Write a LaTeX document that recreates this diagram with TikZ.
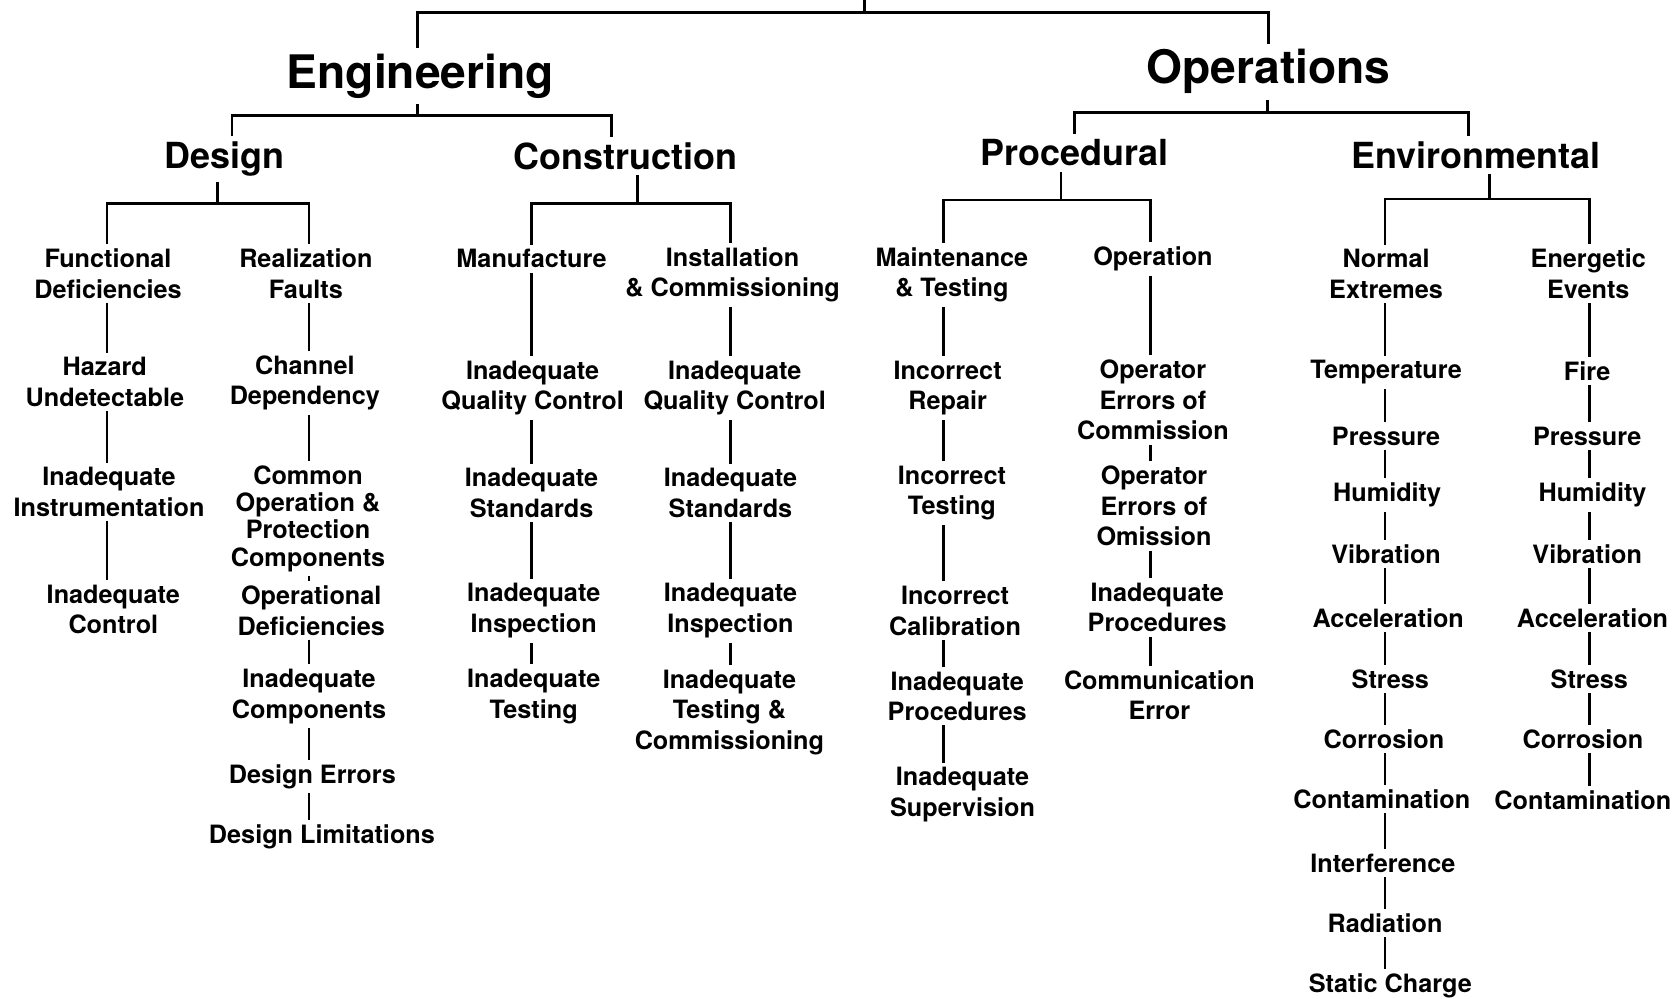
\documentclass[tikz,border=0pt]{standalone}
\usepackage{fontspec}
\setmainfont{TeX Gyre Heros}
\usetikzlibrary{positioning}

\begin{document}
\begin{tikzpicture}[x=0.5pt, y=-0.5pt, line width=1.3pt,
    rootbox/.style={font=\fontsize{21.6}{24}\selectfont\bfseries, inner sep=2pt},
    branchbox/.style={font=\fontsize{16.8}{20}\selectfont\bfseries, inner sep=2pt},
    leafbox/.style={font=\fontsize{11.8}{14.3}\selectfont\bfseries, align=center,
        inner xsep=1pt, inner ysep=1.5pt}]
    \useasboundingbox (0,0) rectangle (1568,934);

    % columns of the leaf chains
    \coordinate (c1) at (100,0);
    \coordinate (c2) at (289,0);
    \coordinate (c3) at (497,0);
    \coordinate (c4) at (683,0);
    \coordinate (c5) at (882,0);
    \coordinate (c6) at (1076,0);
    \coordinate (c7) at (1295,0);
    \coordinate (c8) at (1486,0);

    % bars
    \coordinate (top) at (808,0);
    \coordinate (bR) at (808,12);
    \coordinate (bE) at (390,108);
    \coordinate (bO) at (1185,105);
    \coordinate (bD) at (203,190);
    \coordinate (bC) at (596,190);
    \coordinate (bP) at (992,187);
    \coordinate (bV) at (1393,186);

    \node [rootbox] (Eng) at (393,71) {Engineering};
    \node [rootbox] (Ops) at (1186,67) {Operations};

    \node [branchbox] (Des) at (210,149) {Design};
    \node [branchbox] (Con) at (585,146) {Construction};
    \node [branchbox] (Pro) at (1005,143) {Procedural};
    \node [branchbox] (Env) at (1380,145) {Environmental};

    % Design
    \node [leafbox] (FD) at (101,256) {Functional\\Deficiencies};
    \node [leafbox] (HU) at (98,357) {Hazard\\Undetectable};
    \node [leafbox] (II) at (102,460) {Inadequate\\Instrumentation};
    \node [leafbox] (IC) at (106,570) {Inadequate\\Control};

    \node [leafbox] (RF) at (286,256) {Realization\\Faults};
    \node [leafbox] (CD) at (285,358) {Channel\\Dependency};
    \node [leafbox, font=\fontsize{11.8}{12.7}\selectfont\bfseries] (CO) at (288,485)
        {Common\\Operation \&\\Protection\\Components};
    \node [leafbox] (OD) at (291,571) {Operational\\Deficiencies};
    \node [leafbox] (IN) at (289,651) {Inadequate\\Components};
    \node [leafbox] (DE) at (292,726) {Design Errors};
    \node [leafbox] (DL) at (301,782) {Design Limitations};

    % Construction
    \node [leafbox] (MA) at (497,242) {Manufacture};
    \node [leafbox] (QC3) at (498,363) {Inadequate\\Quality Control};
    \node [leafbox] (ST3) at (497,461) {Inadequate\\Standards};
    \node [leafbox] (IS3) at (499,571) {Inadequate\\Inspection};
    \node [leafbox] (TE3) at (499,651) {Inadequate\\Testing};

    \node [leafbox] (IC4) at (685,257) {Installation\\\& Commissioning};
    \node [leafbox] (QC4) at (687,363) {Inadequate\\Quality Control};
    \node [leafbox] (ST4) at (683,461) {Inadequate\\Standards};
    \node [leafbox] (IS4) at (683,571) {Inadequate\\Inspection};
    \node [leafbox] (TC4) at (682,666) {Inadequate\\Testing \&\\Commissioning};

    % Procedural
    \node [leafbox] (MT) at (890,257) {Maintenance\\\& Testing};
    \node [leafbox] (IR) at (886,363) {Incorrect\\Repair};
    \node [leafbox] (IT) at (890,461) {Incorrect\\Testing};
    \node [leafbox] (ICa) at (893,571) {Incorrect\\Calibration};
    \node [leafbox] (IP5) at (895,651) {Inadequate\\Procedures};
    \node [leafbox] (IS5) at (900,743) {Inadequate\\Supervision};

    \node [leafbox] (OP) at (1078,242) {Operation};
    \node [leafbox] (OC) at (1078,374) {Operator\\Errors of\\Commission};
    \node [leafbox] (OO) at (1079,473) {Operator\\Errors of\\Omission};
    \node [leafbox] (IP6) at (1082,568) {Inadequate\\Procedures};
    \node [leafbox] (CE) at (1084,650) {Communication\\Error};

    % Environmental
    \node [leafbox] (NE) at (1296,256) {Normal\\Extremes};
    \node [leafbox] (Tm7) at (1296,348) {Temperature};
    \node [leafbox] (Pr7) at (1296,408) {Pressure};
    \node [leafbox] (Hu7) at (1297,463) {Humidity};
    \node [leafbox] (Vi7) at (1296,518) {Vibration};
    \node [leafbox] (Ac7) at (1298,578) {Acceleration};
    \node [leafbox] (St7) at (1300,635) {Stress};
    \node [leafbox] (Co7) at (1294,691) {Corrosion};
    \node [leafbox] (Ct7) at (1292,747) {Contamination};
    \node [leafbox] (If7) at (1293,807) {Interference};
    \node [leafbox] (Ra7) at (1295,863) {Radiation};
    \node [leafbox] (SC7) at (1300,922) {Static Charge};

    \node [leafbox] (EE) at (1485,256) {Energetic\\Events};
    \node [leafbox] (Fi8) at (1484,347) {Fire};
    \node [leafbox] (Pr8) at (1484,408) {Pressure};
    \node [leafbox] (Hu8) at (1489,463) {Humidity};
    \node [leafbox] (Vi8) at (1484,518) {Vibration};
    \node [leafbox] (Ac8) at (1489,578) {Acceleration};
    \node [leafbox] (St8) at (1486,635) {Stress};
    \node [leafbox] (Co8) at (1480,691) {Corrosion};
    \node [leafbox] (Ct8) at (1480,748) {Contamination};

    % tree
    \draw (top) -- (bR);
    \draw (Eng.north -| bE) |- (bR) -| (Ops.north);
    \draw (Eng.south -| bE) -- (bE);
    \draw ([xshift=3.5pt]Des.north) |- (bE) -| ([xshift=-6.5pt]Con.north);
    \draw (Ops.south -| bO) -- (bO);
    \draw (Pro.north) |- (bO) -| ([xshift=-3.5pt]Env.north);

    \draw (Des.south -| bD) -- (bD);
    \draw (FD.north -| c1) |- (bD) -| (RF.north -| c2);
    \draw (Con.south -| bC) -- (bC);
    \draw (MA.north -| c3) |- (bC) -| (IC4.north -| c4);
    \draw (Pro.south -| bP) -- (bP);
    \draw (MT.north -| c5) |- (bP) -| (OP.north -| c6);
    \draw (Env.south -| bV) -- (bV);
    \draw (NE.north -| c7) |- (bV) -| (EE.north -| c8);

    % chains
    \foreach \a/\b in {FD/HU, HU/II, II/IC}
        \draw (\a.south -| c1) -- (\b.north -| c1);
    \foreach \a/\b in {RF/CD, CD/CO, CO/OD, OD/IN, IN/DE, DE/DL}
        \draw (\a.south -| c2) -- (\b.north -| c2);
    \foreach \a/\b in {MA/QC3, QC3/ST3, ST3/IS3, IS3/TE3}
        \draw (\a.south -| c3) -- (\b.north -| c3);
    \foreach \a/\b in {IC4/QC4, QC4/ST4, ST4/IS4, IS4/TC4}
        \draw (\a.south -| c4) -- (\b.north -| c4);
    \foreach \a/\b in {MT/IR, IR/IT, IT/ICa, ICa/IP5, IP5/IS5}
        \draw (\a.south -| c5) -- (\b.north -| c5);
    \foreach \a/\b in {OP/OC, OC/OO, OO/IP6, IP6/CE}
        \draw (\a.south -| c6) -- (\b.north -| c6);
    \foreach \a/\b in {NE/Tm7, Tm7/Pr7, Pr7/Hu7, Hu7/Vi7, Vi7/Ac7, Ac7/St7, St7/Co7,
                       Co7/Ct7, Ct7/If7, If7/Ra7, Ra7/SC7}
        \draw (\a.south -| c7) -- (\b.north -| c7);
    \foreach \a/\b in {EE/Fi8, Fi8/Pr8, Pr8/Hu8, Hu8/Vi8, Vi8/Ac8, Ac8/St8, St8/Co8,
                       Co8/Ct8}
        \draw (\a.south -| c8) -- (\b.north -| c8);
\end{tikzpicture}
\end{document}
